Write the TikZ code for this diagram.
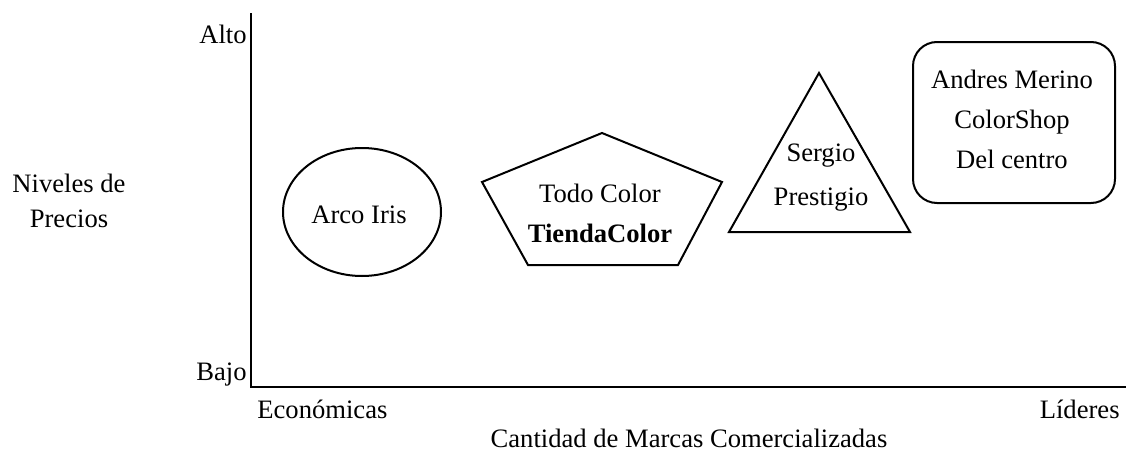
\documentclass[tikz,border=0pt]{standalone}
\usepackage{fontspec}
\setmainfont{Liberation Serif}
\usepackage{tikz}

\tikzset{
  lbl/.style={inner sep=0pt, font=\fontsize{13.3}{20}\selectfont},
  shp/.style={line width=1pt, line join=miter}
}

\begin{document}
\begin{tikzpicture}[x=0.5pt,y=0.5pt,yscale=-1,xscale=1]
%set diagram left start at 0, and has height of 455
\useasboundingbox (0,0) rectangle (1126,455);

%Axes
\coordinate (Ytop) at (251,13);
\coordinate (O) at (251,387);
\coordinate (Xend) at (1126,387);
\draw [line width=1.1pt] (Ytop) -- (O) -- (Xend) ;

%Shape: Ellipse [id:dp3719405512283614]
\draw [shp] (283,212) .. controls (283,176.65) and (318.37,148) .. (362,148) .. controls (405.63,148) and (441,176.65) .. (441,212) .. controls (441,247.35) and (405.63,276) .. (362,276) .. controls (318.37,276) and (283,247.35) .. (283,212) -- cycle ;
%Shape: Pentagon [id:dp8826140735918207]
\draw [shp] (602,133) -- (722,182) -- (678,265) -- (528,265) -- (482,182) -- cycle ;
%Shape: Triangle [id:dp5190827364410952]
\draw [shp] (819,73) -- (910,232) -- (729,232) -- cycle ;
%Rounded Rect [id:dp2064917833145589]
\draw [shp, rounded corners=12pt] (913,42) rectangle (1115,203) ;

% Text Node
\node [lbl, anchor=base east] (alto) at (247,43) {Alto};
% Text Node
\node [lbl, anchor=base east] (bajo) at (247,380) {Bajo};
% Text Node
\node [lbl, anchor=base west] (economicas) at (257,418) {Económicas};
% Text Node
\node [lbl, anchor=base east] (lideres) at (1120,418) {Líderes};
% Text Node
\node [lbl, anchor=base] (ejex) at (689,447) {Cantidad de Marcas Comercializadas};
% Text Node
\node [lbl, align=center, font=\fontsize{13.3}{17.5}\selectfont] (ejey) at (69,200.5) {Niveles de\\Precios};
% Text Node
\node [lbl, anchor=base] (arcoiris) at (359,223) {Arco Iris};
% Text Node
\node [lbl, align=center] (todocolor) at (600,213) {Todo Color\\\textbf{TiendaColor}};
% Text Node
\node [lbl, align=center, font=\fontsize{13.3}{22}\selectfont] (sergio) at (821,178) {Sergio\\Prestigio};
% Text Node
\node [lbl, align=center] (andres) at (1012,119) {Andres Merino\\ColorShop\\Del centro};

\end{tikzpicture}
\end{document}
